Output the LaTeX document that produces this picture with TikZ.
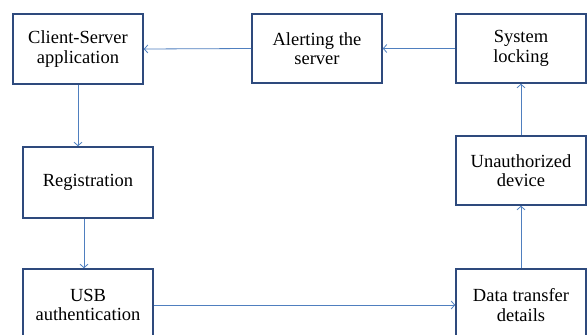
\documentclass[tikz,border=0pt]{standalone}
\usepackage{fontspec}
\setmainfont{Liberation Serif}
\usetikzlibrary{arrows.meta}
\definecolor{boxline}{HTML}{2E4A7D}
\definecolor{flow}{HTML}{4F7FBF}
\tikzset{
  stage/.style={draw=boxline, line width=1.6pt, fill=white, minimum width=130pt,
    align=center, font=\fontsize{18.5}{19.5}\selectfont, inner sep=0pt},
  link/.style={draw=flow, line width=0.8pt, -{Straight Barb[length=3.5pt,width=8pt]}}
}
\begin{document}
\begin{tikzpicture}[x=1pt,y=-1pt]
\useasboundingbox (0,0) rectangle (587,335);
\clip (0,0) rectangle (587,335);
\fill[white] (0,0) rectangle (587,335);

\node[stage, minimum height=70pt] (cs)  at (78,49)    {Client-Server\\application};
\node[stage, minimum height=69pt] (al)  at (317,48.5) {Alerting the\\server};
\node[stage, minimum height=69pt] (sl)  at (521,48.5) {System\\locking};
\node[stage, minimum height=69pt] (un)  at (521,170.5){Unauthorized\\device};
\node[stage, minimum height=71pt] (reg) at (88,182.5) {Registration};
\node[stage, minimum height=72pt] (usb) at (88,305)   {USB\\authentication};
\node[stage, minimum height=72pt] (dt)  at (521,305)  {Data transfer\\details};

\draw[link] (al.west) -- (cs.east);
\draw[link] (sl.west) -- (al.east);
\draw[link] (cs.south) -- (cs.south |- reg.north);
\draw[link] ([xshift=-4pt]reg.south) -- ([xshift=-4pt]usb.north);
\draw[link] (usb.east) -- (dt.west);
\draw[link] (dt.north) -- (un.south);
\draw[link] (un.north) -- (sl.south);
\end{tikzpicture}
\end{document}
